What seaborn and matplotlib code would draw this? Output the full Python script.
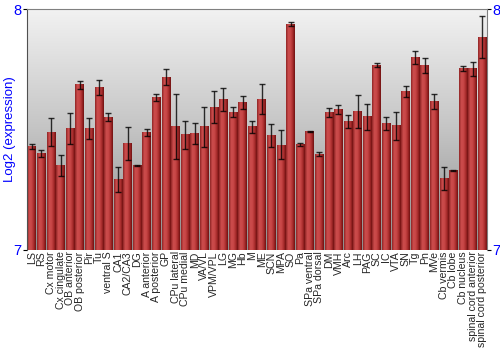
import numpy as np
import pandas as pd
import matplotlib
matplotlib.use("Agg")
import matplotlib.pyplot as plt
import seaborn as sns
from matplotlib.colors import LinearSegmentedColormap

regions = ["LS", "RS", "Cx motor", "Cx cingulate", "OB anterior", "OB posterior", "Pir", "Tu",
           "ventral S", "CA1", "CA2/CA3", "DG", "A anterior", "A posterior", "GP", "CPu lateral",
           "CPu medial", "MD", "VA/VL", "VPM/VPL", "LG", "MG", "Hb", "M", "ME", "SCN", "MPA", "SO",
           "Pa", "SPa ventral", "SPa dorsal", "DM", "VMH", "Arc", "LH", "PAG", "SC", "IC", "VTA",
           "SN", "Tg", "Pn", "MVe", "Cb vermis", "Cb lobe", "Cb nucleus", "spinal cord anterior",
           "spinal cord posterior"]
expression = [7.428, 7.400, 7.490, 7.350, 7.504, 7.686, 7.504, 7.675,
              7.551, 7.293, 7.442, 7.349, 7.489, 7.633, 7.718, 7.512,
              7.479, 7.482, 7.511, 7.593, 7.624, 7.572, 7.613, 7.511, 7.626, 7.476, 7.436, 7.938,
              7.439, 7.493, 7.397, 7.572, 7.582, 7.533, 7.576, 7.553, 7.767, 7.525, 7.515,
              7.659, 7.800, 7.766, 7.618, 7.298, 7.331, 7.753, 7.753,
              7.884]
error = [0.010, 0.014, 0.057, 0.043, 0.064, 0.017, 0.043, 0.032,
         0.017, 0.051, 0.067, 0.002, 0.015, 0.014, 0.032, 0.135,
         0.058, 0.044, 0.083, 0.066, 0.047, 0.022, 0.026, 0.024, 0.062, 0.048, 0.060, 0.010,
         0.006, 0.002, 0.009, 0.019, 0.019, 0.027, 0.068, 0.054, 0.009, 0.025, 0.058,
         0.023, 0.027, 0.033, 0.031, 0.048, 0.002, 0.009, 0.029,
         0.087]
y_ticks = [7, 8]

df = pd.DataFrame({"region": regions, "expr": expression})

sns.set_theme(style="white")
plt.rcParams["font.family"] = ["Liberation Sans", "DejaVu Sans"]

fig = plt.figure(figsize=(5, 3.5), dpi=100)
ax = fig.add_axes([0.054, 0.286, 0.920, 0.688])

# background vertical gradient
bg = LinearSegmentedColormap.from_list("bg", ["#8e8e8e", "#c4c4c4", "#f2f2f2"])
ax.imshow(np.linspace(0, 1, 256).reshape(-1, 1), cmap=bg, aspect="auto",
          extent=[0, 1, 0, 1], transform=ax.transAxes, origin="lower", zorder=0)

sns.barplot(data=df, x="region", y="expr", color="#b83232", width=0.9,
            errorbar=None, ax=ax, zorder=2)

ax.set_xlim(-0.5, len(regions) - 0.5)
ax.set_ylim(7, 8)

barcmap = LinearSegmentedColormap.from_list(
    "bar", ["#8e2424", "#cc4c4c", "#c84747", "#aa2d2d", "#701111"])
grad = np.linspace(0, 1, 64).reshape(1, -1)
for p in list(ax.patches):
    x0, y0 = p.get_x(), p.get_y()
    w, h = p.get_width(), p.get_height()
    ax.imshow(grad, cmap=barcmap, aspect="auto",
              extent=[x0, x0 + w, 7, y0 + h], zorder=2.5)
    p.set_facecolor("none")
    p.set_edgecolor("none")

ax.errorbar(np.arange(len(regions)), expression, yerr=error, fmt="none",
            ecolor="black", elinewidth=1.0, capsize=2.5, capthick=1.0,
            alpha=0.8, zorder=3)

ax.set_xlim(-0.5, len(regions) - 0.5)
ax.set_ylim(7, 8)
ax.set_yticks(y_ticks)
ax.set_yticklabels([str(t) for t in y_ticks])
ax.tick_params(axis="y", colors="black", labelcolor="blue", labelsize=10.5,
               length=3, width=0.8, left=True, right=True,
               labelleft=True, labelright=True, pad=1)
ax.tick_params(axis="x", labelsize=7.6, rotation=90, length=0, pad=1)
ax.set_xlabel("")
ax.set_ylabel("Log2 (expression)", color="blue", fontsize=9.5)
ax.yaxis.set_label_coords(-0.024, 0.5)

for s in ["top", "right"]:
    ax.spines[s].set_color("#808080")
    ax.spines[s].set_linewidth(0.8)
ax.spines["left"].set_color("#505050")
ax.spines["left"].set_linewidth(0.8)
ax.spines["bottom"].set_visible(False)

fig.savefig("out.png", dpi=100)
